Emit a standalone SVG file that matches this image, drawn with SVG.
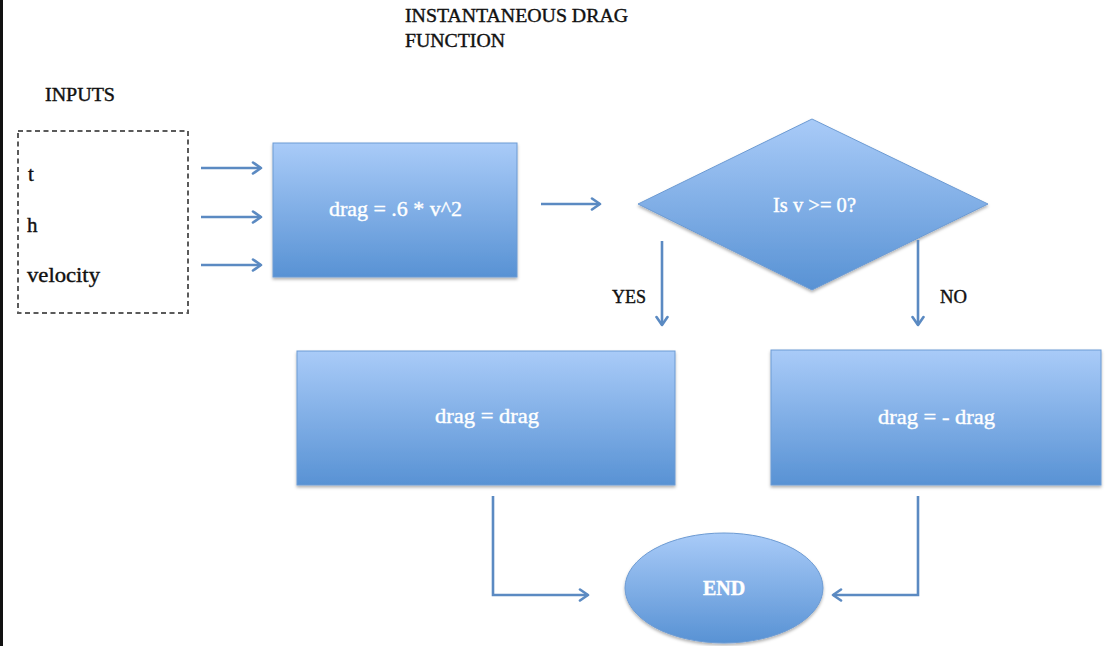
<svg xmlns="http://www.w3.org/2000/svg" width="1107" height="646" viewBox="0 0 1107 646">
<defs>
<linearGradient id="blue" x1="0" y1="0" x2="0" y2="1">
<stop offset="0" stop-color="#a9cbf8"/>
<stop offset="1" stop-color="#5892d4"/>
</linearGradient>
<filter id="sh" x="-10%" y="-10%" width="120%" height="130%">
<feDropShadow dx="0" dy="2" stdDeviation="1.5" flood-color="#000" flood-opacity="0.3"/>
</filter>
<marker id="ah" markerUnits="userSpaceOnUse" markerWidth="14" markerHeight="14" refX="10" refY="7" orient="auto">
<path d="M2,1.5 L10,7 L2,12.5" fill="none" stroke="#5b8ac2" stroke-width="2.6" stroke-linecap="round" stroke-linejoin="round"/>
</marker>
</defs>
<style>
.shape{fill:url(#blue);stroke:#6d9bd3;stroke-width:1;filter:url(#sh)}
.lbl{font-family:"Liberation Serif","Times New Roman",serif;fill:#fff;stroke:#fff;stroke-width:0.4;text-anchor:middle}
.blk{font-family:"Liberation Serif","Times New Roman",serif;fill:#111;stroke:#111;stroke-width:0.4}
.con{fill:none;stroke:#5b8ac2;stroke-width:2.6;marker-end:url(#ah)}
</style>
<rect x="0" y="0" width="1107" height="646" fill="#fff"/>
<rect x="0" y="0" width="3" height="646" fill="#111"/>

<g id="title">
<text class="blk" x="405" y="22" font-size="19" textLength="223" lengthAdjust="spacingAndGlyphs">INSTANTANEOUS DRAG</text>
<text class="blk" x="405" y="47" font-size="19" textLength="100" lengthAdjust="spacingAndGlyphs">FUNCTION</text>
</g>

<g id="inputs">
<text class="blk" x="45" y="101" font-size="19" textLength="70" lengthAdjust="spacingAndGlyphs">INPUTS</text>
<rect x="18" y="131" width="170" height="182" fill="none" stroke="#5a5a5a" stroke-width="2" stroke-dasharray="5 3.5"/>
<text class="blk" x="28" y="181" font-size="21">t</text>
<text class="blk" x="27" y="232" font-size="21">h</text>
<text class="blk" x="27" y="282" font-size="21" textLength="73" lengthAdjust="spacingAndGlyphs">velocity</text>
</g>

<g id="compute">
<rect class="shape" x="273" y="143" width="244" height="134"/>
<text class="lbl" x="395.5" y="216" font-size="22" textLength="133" lengthAdjust="spacingAndGlyphs">drag = .6 * v^2</text>
</g>

<g id="decision">
<polygon class="shape" points="638,204 812,119 988,204 812,290"/>
<text class="lbl" x="814.5" y="212" font-size="21" textLength="83" lengthAdjust="spacingAndGlyphs">Is v &gt;= 0?</text>
</g>

<g id="yesbox">
<rect class="shape" x="297" y="351" width="378" height="134"/>
<text class="lbl" x="487" y="423" font-size="22" textLength="104" lengthAdjust="spacingAndGlyphs">drag = drag</text>
</g>

<g id="nobox">
<rect class="shape" x="771" y="350" width="330" height="135"/>
<text class="lbl" x="936.5" y="424" font-size="22" textLength="117" lengthAdjust="spacingAndGlyphs">drag = - drag</text>
</g>

<g id="end">
<ellipse class="shape" cx="724" cy="588" rx="99" ry="55"/>
<text class="lbl" x="724" y="595" font-size="20" font-weight="bold">END</text>
</g>

<g id="connectors">
<line class="con" x1="201" y1="168" x2="261" y2="168"/>
<line class="con" x1="201" y1="217" x2="261" y2="217"/>
<line class="con" x1="201" y1="265" x2="261" y2="265"/>
<line class="con" x1="541" y1="204" x2="600" y2="204"/>
<line class="con" x1="662" y1="241" x2="662" y2="325"/>
<line class="con" x1="918" y1="240" x2="918" y2="325"/>
<polyline class="con" points="493,496 493,595 588,595"/>
<polyline class="con" points="918,496 918,595 833,595"/>
<text class="blk" x="612" y="303" font-size="19" textLength="34" lengthAdjust="spacingAndGlyphs">YES</text>
<text class="blk" x="940" y="303" font-size="19" textLength="27" lengthAdjust="spacingAndGlyphs">NO</text>
</g>
</svg>
